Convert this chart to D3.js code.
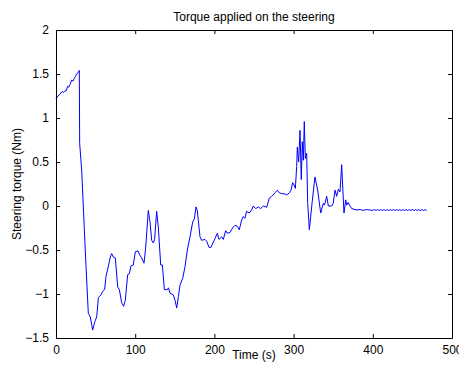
<!DOCTYPE html>
<html>
<head>
<meta charset="utf-8">
<script src="https://cdn.jsdelivr.net/npm/d3@7"></script>
<style>
  body { margin: 0; background: #fff; }
  svg text { font-family: "Liberation Sans", Arial, sans-serif; font-size: 12px; fill: #000; }
</style>
</head>
<body>
<svg id="grafico" width="459" height="369"></svg>
<script>
// datos
const tiempo = [0, 2.5, 5, 7.6, 9.5, 11.4, 13, 14.7, 16, 17.7, 19.8, 21.5, 23, 24.5, 26, 27.5, 29.4,
  29.9, 32.4, 35.8, 37.9, 40.8, 43.3, 46.3, 49.2, 51.4, 53.5, 56.8, 58.9, 61.4, 63.1, 66, 68.6, 70.3,
  72.4, 74.9, 77.9, 80, 82.9, 85.4, 87.5, 90.5, 92.6, 94.7, 97.6, 100.2, 103.5, 106, 108.2, 111.1,
  113.2, 116.5, 118.7, 120.8, 122.9, 124.5, 127.1, 129.2, 132.2, 134.3, 136.8, 140.6, 142, 143.9,
  148.1, 150.3, 152.4, 154.5, 156.6, 160, 162.9, 165.8, 169.2, 172.6, 174.6, 176.8, 178.4, 181.8,
  183.9, 188.1, 190.3, 193.2, 195.7, 198.6, 200.8, 203.7, 205.8, 209.2, 211.2, 214.3, 216.3, 219.7,
  223, 226, 228.9, 231.4, 234.4, 236.5, 238.5, 240.7, 244, 247.1, 249.1, 252.1, 255.5, 258.4, 261.8,
  266, 269.4, 272.3, 276.5, 279.4, 282, 285, 287.9, 291.3, 294.6, 296.7, 298.8, 300.5, 302.2, 303.9,
  304.7, 306.4, 308.1, 309.7, 311, 312.3, 313.5, 314.8, 316.5, 317.8, 319.9, 323.5, 327, 330.4, 334.2,
  337.5, 339, 341.8, 343.9, 348.1, 350, 352.3, 354.4, 356.5, 358.6, 360.7, 363.6, 365.8, 367, 369,
  371.2, 373.4, 377.5, 380, 384, 388, 392, 396, 400, 402, 404, 406, 408, 410, 412, 414, 416, 418,
  420, 422, 424, 426, 428, 430, 432, 434, 436, 438, 440, 442, 444, 446, 448, 450, 452, 454, 456,
  458, 460, 462, 464, 466, 468];
const torque = [1.22, 1.25, 1.27, 1.30, 1.29, 1.31, 1.31, 1.36, 1.35, 1.38, 1.43, 1.42, 1.45, 1.47, 1.50, 1.51, 1.54,
  0.71, 0.41, -0.27, -0.69, -1.22, -1.26, -1.41, -1.31, -1.26, -1.04, -1.01, -0.97, -0.95, -0.80, -0.69, -0.58, -0.54,
  -0.58, -0.59, -0.92, -0.95, -1.10, -1.14, -1.07, -0.78, -0.77, -0.68, -0.67, -0.52, -0.51, -0.56, -0.59, -0.65,
  -0.48, -0.05, -0.18, -0.39, -0.42, -0.38, -0.06, -0.24, -0.67, -0.67, -0.95, -0.95, -0.93, -0.99,
  -1.01, -1.07, -1.16, -1.03, -0.90, -0.82, -0.69, -0.50, -0.35, -0.18, -0.15, -0.01, -0.05, -0.35,
  -0.39, -0.38, -0.40, -0.47, -0.47, -0.41, -0.37, -0.31, -0.38, -0.35, -0.38, -0.28, -0.31, -0.30,
  -0.25, -0.22, -0.23, -0.27, -0.16, -0.12, -0.14, -0.06, -0.08, -0.045, 0.0, -0.03, -0.01, -0.03, 0.0,
  -0.015, 0.09, 0.11, 0.15, 0.18, 0.15, 0.14, 0.14, 0.125, 0.15, 0.18, 0.265, 0.24, 0.20, 0.45,
  0.67, 0.50, 0.86, 0.30, 0.73, 0.52, 0.96, 0.54, 0.60, 0.03, -0.27, 0.05, 0.33, 0.18, -0.08,
  0.03, 0.01, 0.11, 0.0, 0.0, 0.03, 0.18, 0.11, 0.19, 0.16, 0.47, -0.08, 0.07, 0.01, 0.04,
  0.0, -0.03, -0.04, -0.045, -0.04, -0.05, -0.04, -0.045, -0.05, -0.04, -0.052, -0.04, -0.052, -0.04, -0.052, -0.04, -0.052,
  -0.04, -0.052, -0.04, -0.052, -0.04, -0.052, -0.04, -0.052, -0.04, -0.052, -0.04, -0.052, -0.04, -0.052, -0.04,
  -0.052, -0.04, -0.052, -0.04, -0.052, -0.04, -0.052, -0.04, -0.052, -0.04, -0.052, -0.045];

const ticks_x = [0, 100, 200, 300, 400, 500];
const ticks_y = [-1.5, -1, -0.5, 0, 0.5, 1, 1.5, 2];

const titulo = 'Torque applied on the steering';
const etiqueta_x = 'Time (s)';
const etiqueta_y = 'Steering torque (Nm)';

const margen = { left: 56, right: 7, top: 30, bottom: 31 };
const ancho = 459, alto = 369;
const largo_tick = 4;

const svg = d3.select('#grafico');

const escalaX = d3.scaleLinear().domain([0, 500]).range([margen.left, ancho - margen.right]);
const escalaY = d3.scaleLinear().domain([-1.5, 2]).range([alto - margen.bottom, margen.top]);

const datos = tiempo.map((t, i) => [t, torque[i]]);

const linea = d3.line()
    .x(d => escalaX(d[0]))
    .y(d => escalaY(d[1]));

svg.append('path')
    .datum(datos)
    .attr('d', linea)
    .attr('fill', 'none')
    .attr('stroke', '#0000ff')
    .attr('stroke-width', 1)
    .attr('stroke-linejoin', 'round');

// ejes tipo matlab, ticks hacia adentro y caja cerrada
const ejeAbajo = d3.axisBottom(escalaX).tickValues(ticks_x).tickSizeInner(-largo_tick).tickSizeOuter(0).tickPadding(7);
const ejeIzq = d3.axisLeft(escalaY).tickValues(ticks_y).tickSizeInner(-largo_tick).tickSizeOuter(0).tickPadding(7)
    .tickFormat(d => d3.format('')(d).replace('-', '\u2212'));
const ejeArriba = d3.axisTop(escalaX).tickValues(ticks_x).tickSizeInner(-largo_tick).tickSizeOuter(0).tickFormat('');
const ejeDer = d3.axisRight(escalaY).tickValues(ticks_y).tickSizeInner(-largo_tick).tickSizeOuter(0).tickFormat('');

svg.append('g').attr('transform', `translate(0,${alto - margen.bottom})`).call(ejeAbajo);
svg.append('g').attr('transform', `translate(${margen.left},0)`).call(ejeIzq);
svg.append('g').attr('transform', `translate(0,${margen.top})`).call(ejeArriba);
svg.append('g').attr('transform', `translate(${ancho - margen.right},0)`).call(ejeDer);

svg.selectAll('.domain, .tick line').attr('stroke', '#000').attr('stroke-width', 1);
svg.selectAll('.tick text').attr('font-size', 12).attr('font-family', '"Liberation Sans", Arial, sans-serif').attr('fill', '#000');

svg.append('text')
    .attr('x', (margen.left + ancho - margen.right) / 2)
    .attr('y', 21)
    .attr('text-anchor', 'middle')
    .text(titulo);

svg.append('text')
    .attr('x', (margen.left + ancho - margen.right) / 2)
    .attr('y', 359)
    .attr('text-anchor', 'middle')
    .text(etiqueta_x);

svg.append('text')
    .attr('transform', `translate(21,${(margen.top + alto - margen.bottom) / 2}) rotate(-90)`)
    .attr('text-anchor', 'middle')
    .text(etiqueta_y);
</script>
</body>
</html>
